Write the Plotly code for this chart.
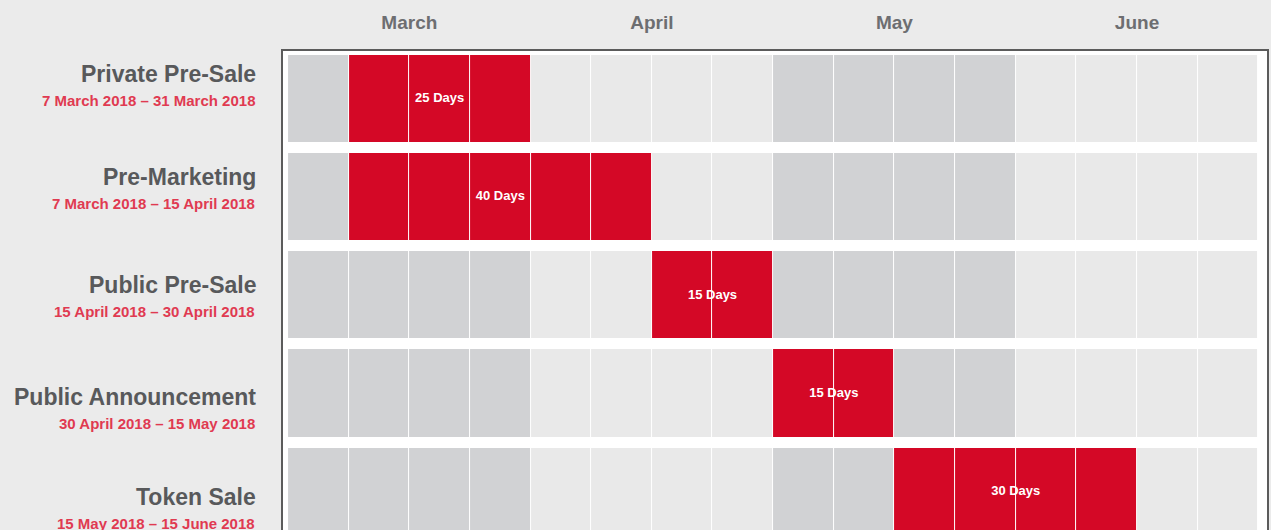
import plotly.graph_objects as go

# ---- data ----
phases = ["Private Pre-Sale", "Pre-Marketing", "Public Pre-Sale",
          "Public Announcement", "Token Sale"]
date_ranges = ["7 March 2018 – 31 March 2018", "7 March 2018 – 15 April 2018",
               "15 April 2018 – 30 April 2018", "30 April 2018 – 15 May 2018",
               "15 May 2018 – 15 June 2018"]
durations_days = [25, 40, 15, 15, 30]
start_week = [1, 1, 6, 8, 10]   # column index where the phase starts
end_week = [4, 6, 8, 10, 14]    # column index where the phase ends
months = ["March", "April", "May", "June"]
weeks_per_month = 4

# ---- styles ----
FONT = "Liberation Sans, Arial, sans-serif"
GREY_CELL = "#d1d2d4"
LIGHT_CELL = "#e9e9e9"
RED = "#d40826"
LABEL_GREY = "#58595b"
DATE_RED = "#e03a51"
MONTH_GREY = "#6d6e71"
PAGE_BG = "#ebebeb"

n_cols = len(months) * weeks_per_month
col_centers = [c + 0.5 for c in range(n_cols)]
rows = list(range(len(phases)))

z = []
for r in rows:
    row = []
    for c in range(n_cols):
        if start_week[r] <= c < end_week[r]:
            row.append(2)
        else:
            row.append(0 if (c // weeks_per_month) % 2 == 0 else 1)
    z.append(row)

fig = go.Figure()
fig.add_trace(go.Heatmap(
    x=col_centers, y=rows, z=z, zmin=0, zmax=2,
    colorscale=[[0, GREY_CELL], [0.5, LIGHT_CELL], [1, RED]],
    showscale=False, xgap=1, ygap=11, hoverinfo="skip",
))

bar_centers = [(s + e) / 2 for s, e in zip(start_week, end_week)]
fig.add_trace(go.Scatter(
    x=bar_centers, y=rows, mode="text",
    text=[f"{d} Days" for d in durations_days],
    textfont=dict(family=FONT, size=13, color="white", weight="bold"),
    hoverinfo="skip", showlegend=False, cliponaxis=False,
))

month_centers = [i * weeks_per_month + weeks_per_month / 2 for i in range(len(months))]

name_shift = [-25, -20, -10, 3.5, 5.5]
date_gap = 26
annotations = []
for r in rows:
    annotations.append(dict(
        xref="paper", yref="y", x=0, y=r, xanchor="right", yanchor="middle",
        xshift=-24, yshift=-name_shift[r], showarrow=False,
        text=f"<b>{phases[r]}</b>",
        font=dict(family=FONT, size=23, color=LABEL_GREY),
    ))
    annotations.append(dict(
        xref="paper", yref="y", x=0, y=r, xanchor="right", yanchor="middle",
        xshift=-25, yshift=-(name_shift[r] + date_gap), showarrow=False,
        text=f"<b>{date_ranges[r]}</b>",
        font=dict(family=FONT, size=15, color=DATE_RED),
    ))

fig.update_layout(
    width=1271, height=530,
    margin=dict(l=282, r=3, t=50, b=0),
    paper_bgcolor=PAGE_BG, plot_bgcolor="white",
    showlegend=False,
    annotations=annotations,
    shapes=[dict(type="rect", xref="paper", yref="paper", x0=0, x1=1,
                 y0=-0.2, y1=1, line=dict(color="#5b5b5b", width=2),
                 fillcolor="rgba(0,0,0,0)", layer="above")],
    xaxis=dict(range=[-0.1, 16.16], side="top", tickvals=month_centers,
               ticktext=months, showgrid=False, zeroline=False,
               ticks="", ticklabelstandoff=16,
               tickfont=dict(family=FONT, size=19, color=MONTH_GREY, weight="bold")),
    yaxis=dict(range=[4.39, -0.5], showgrid=False, zeroline=False,
               showticklabels=False, ticks=""),
)

fig.write_html(
    "out.html",
    config={"displayModeBar": False},
    post_script="document.body.style.margin='0';document.body.style.overflow='hidden';"
                "document.body.style.background='" + PAGE_BG + "';",
)
